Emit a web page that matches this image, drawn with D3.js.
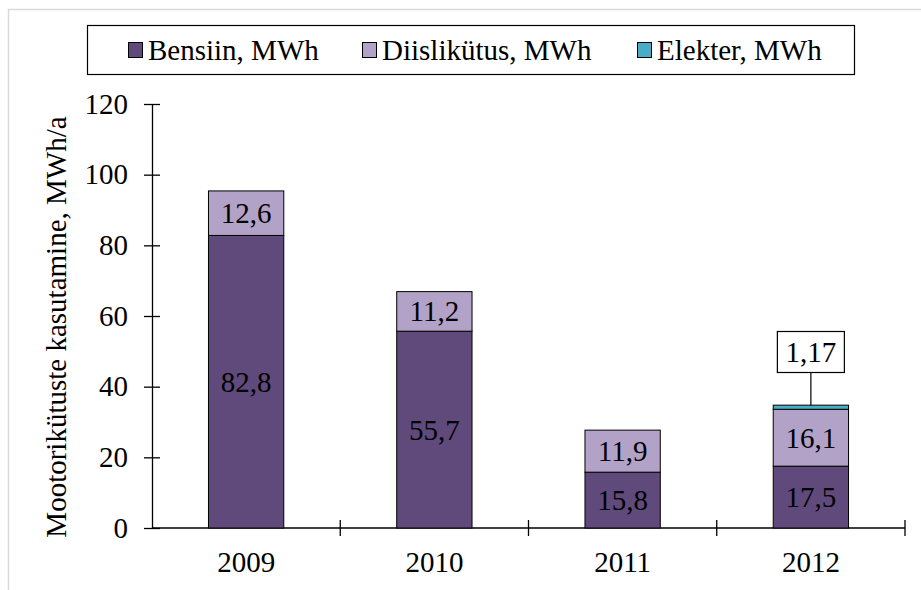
<!DOCTYPE html>
<html><head><meta charset="utf-8">
<script src="https://cdn.jsdelivr.net/npm/d3@7"></script>
</head><body style="margin:0">
<svg id="c" width="921" height="590"></svg>
<script>
const years = ["2009","2010","2011","2012"];
const seriesNames = ["Bensiin, MWh","Diislikütus, MWh","Elekter, MWh"];
const bensiin = [82.8, 55.7, 15.8, 17.5];
const diisel = [12.6, 11.2, 11.9, 16.1];
const elekter = [0, 0, 0, 1.17];
const bensiinLabels = ["82,8","55,7","15,8","17,5"];
const diiselLabels = ["12,6","11,2","11,9","16,1"];
const elekterLabels = ["","","","1,17"];
const yTicks = [0,20,40,60,80,100,120];
const colors = ["#604a7b","#b3a2c7","#4bacc6"];

const svg = d3.select("#c");
const FS = 29;
const FF = "Liberation Serif";
svg.append("path").attr("d","M8.5,590 V9.5 H921").attr("fill","none").attr("stroke","#d9d9d9").attr("stroke-width",1.5);

const x = d3.scaleBand().domain(years).range([152,905]).paddingInner(0.6).paddingOuter(0.3);
const y = d3.scaleLinear().domain([0,120]).range([528,104]);

// y axis
const yAxis = svg.append("g").attr("transform","translate(152,0)")
  .call(d3.axisLeft(y).tickValues(yTicks).tickSize(8).tickSizeOuter(0).tickPadding(9));
yAxis.attr("font-family",FF).attr("font-size",FS);
yAxis.select(".domain").attr("stroke","#000").attr("stroke-width",1.3);
yAxis.selectAll(".tick line").attr("stroke","#000").attr("stroke-width",1.3).attr("x1",8).attr("x2",-8);
yAxis.selectAll(".tick text").attr("font-family",FF).attr("font-size",FS).attr("fill","#000").attr("dy","0.32em").attr("x",-24);

// x axis
const xLine = svg.append("g");
xLine.append("line").attr("x1",152).attr("x2",905).attr("y1",y(0)).attr("y2",y(0)).attr("stroke","#000").attr("stroke-width",1.3);
const bounds = d3.range(years.length+1).map(i => 152 + i*(753/years.length));
xLine.selectAll("line.b").data(bounds.slice(1)).join("line").attr("class","b")
  .attr("x1",d=>d).attr("x2",d=>d).attr("y1",y(0)-8).attr("y2",y(0)+8).attr("stroke","#000").attr("stroke-width",1.3);
svg.selectAll("text.xl").data(years).join("text").attr("class","xl")
  .attr("x",d=>x(d)+x.bandwidth()/2).attr("y",572).attr("text-anchor","middle")
  .attr("font-size",FS).attr("font-family",FF).attr("fill","#000").text(d=>d);

// stacked bars
const rows = years.map((yr,i)=>({year:yr, b:bensiin[i], d:diisel[i], e:elekter[i]}));
const stack = d3.stack().keys(["b","d","e"])(rows);
const labels = [bensiinLabels, diiselLabels, elekterLabels];
stack.forEach((s,k)=>{
  svg.append("g").selectAll("rect").data(s.filter(d=>d[1]-d[0]>0)).join("rect")
    .attr("x",d=>x(d.data.year)).attr("width",x.bandwidth())
    .attr("y",d=>y(d[1])).attr("height",d=>y(d[0])-y(d[1]))
    .attr("fill",colors[k]).attr("stroke","#000").attr("stroke-width",1);
});
[0,1].forEach(k=>{
  svg.append("g").selectAll("text").data(stack[k]).join("text")
    .attr("x",d=>x(d.data.year)+x.bandwidth()/2).attr("y",d=>(y(d[0])+y(d[1]))/2+10)
    .attr("text-anchor","middle").attr("font-size",FS).attr("font-family",FF).attr("fill","#000")
    .text((d,i)=>labels[k][i]);
});
// callout
stack[2].forEach((d,i)=>{
  if(!(d[1]-d[0]>0)) return;
  const cx = x(d.data.year)+x.bandwidth()/2;
  const top = y(d[1]);
  const by = 352;
  svg.append("line").attr("x1",cx).attr("x2",cx).attr("y1",by+20).attr("y2",top).attr("stroke","#000").attr("stroke-width",1.2);
  svg.append("rect").attr("x",cx-33.5).attr("y",by-20.5).attr("width",67).attr("height",41).attr("fill","#fff").attr("stroke","#000").attr("stroke-width",1.2);
  svg.append("text").attr("x",cx).attr("y",by+10).attr("text-anchor","middle")
    .attr("font-size",FS).attr("font-family",FF).attr("fill","#000").text(elekterLabels[i]);
});

// y title
svg.append("text").attr("transform","translate(66,327) rotate(-90)").attr("text-anchor","middle")
  .attr("font-size",FS).attr("font-family",FF).attr("fill","#000")
  .text("Mootorikütuste kasutamine, MWh/a");

// legend
svg.append("rect").attr("x",87.5).attr("y",25.5).attr("width",767).attr("height",49).attr("fill","#fff").attr("stroke","#000").attr("stroke-width",1.2);
const legX = [128, 362, 637];
const lg = svg.append("g").selectAll("g").data(seriesNames).join("g").attr("transform",(d,i)=>`translate(${legX[i]},42)`);
lg.append("rect").attr("x",0.5).attr("y",0.5).attr("width",14).attr("height",15).attr("fill",(d,i)=>colors[i]).attr("stroke","#000").attr("stroke-width",1);
lg.append("text").attr("x",20).attr("y",17.5).attr("font-size",FS).attr("font-family",FF).attr("fill","#000").text(d=>d);
</script></body></html>
